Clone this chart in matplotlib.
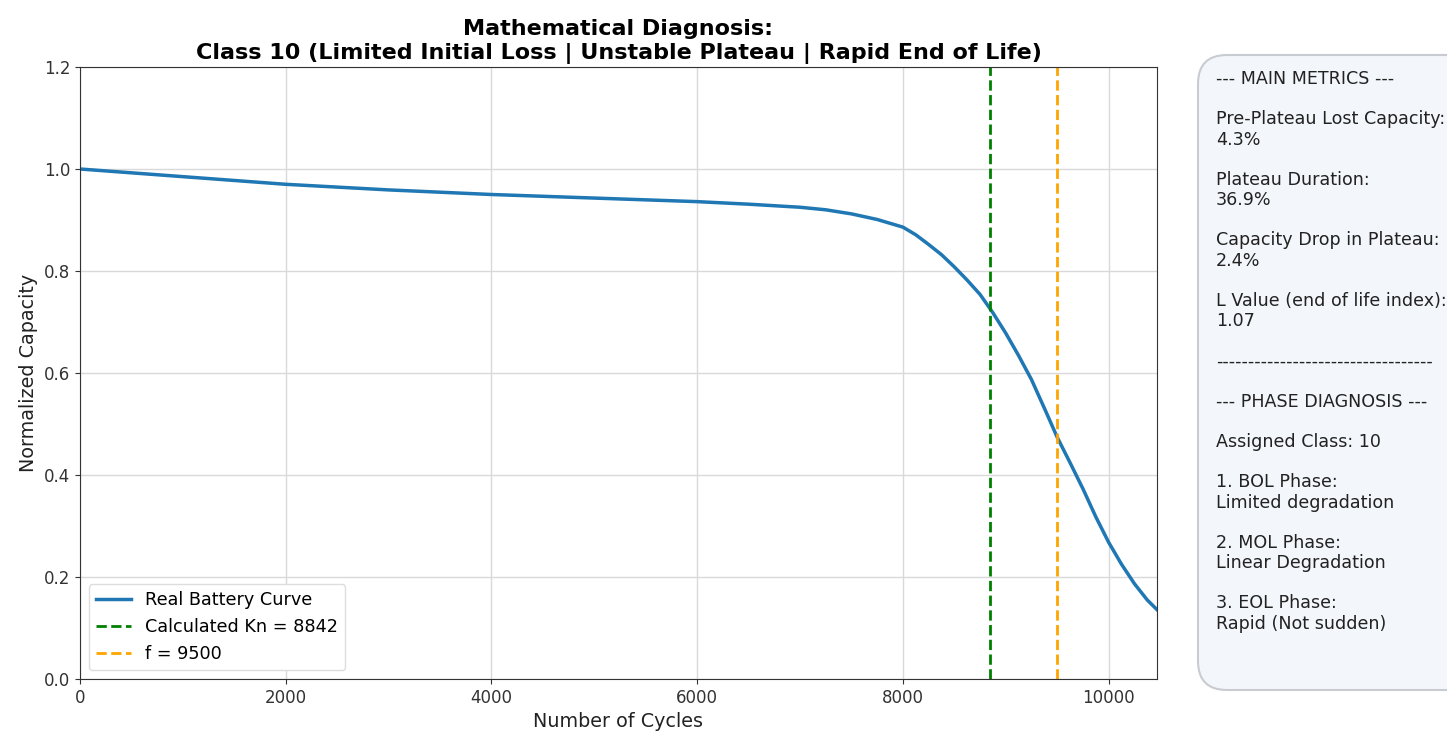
import matplotlib
matplotlib.use("Agg")
import matplotlib.pyplot as plt
from matplotlib.patches import FancyBboxPatch

# ---- data ----
cycles = [0, 1000, 2000, 3000, 4000, 5000, 6000, 6500, 7000, 7250, 7500, 7750,
          8000, 8125, 8250, 8375, 8500, 8625, 8750, 8875, 9000, 9125, 9250,
          9375, 9500, 9625, 9750, 9875, 10000, 10125, 10250, 10375, 10470]
capacity = [1.000, 0.985, 0.970, 0.959, 0.950, 0.943, 0.936, 0.931, 0.925, 0.920,
            0.912, 0.901, 0.886, 0.871, 0.852, 0.832, 0.808, 0.782, 0.754, 0.718,
            0.678, 0.634, 0.587, 0.531, 0.474, 0.424, 0.373, 0.318, 0.268, 0.225,
            0.187, 0.155, 0.136]
kn_value = 8842
f_value = 9500
x_max = 10470
y_ticks = [0.0, 0.2, 0.4, 0.6, 0.8, 1.0, 1.2]

title_text = ("Mathematical Diagnosis:\n"
              "Class 10 (Limited Initial Loss | Unstable Plateau | Rapid End of Life)")
info_lines = [
    "--- MAIN METRICS ---", "",
    "Pre-Plateau Lost Capacity:", "4.3%", "",
    "Plateau Duration:", "36.9%", "",
    "Capacity Drop in Plateau:", "2.4%", "",
    "L Value (end of life index):", "1.07", "",
    "-" * 34, "",
    "--- PHASE DIAGNOSIS ---", "",
    "Assigned Class: 10", "",
    "1. BOL Phase:", "Limited degradation", "",
    "2. MOL Phase:", "Linear Degradation", "",
    "3. EOL Phase:", "Rapid (Not sudden)",
]

W, H = 1447, 733
fig = plt.figure(figsize=(W / 100, H / 100), dpi=100)
ax = fig.add_axes([80 / W, 1 - 679 / H, (1157 - 80) / W, (679 - 67) / H])

ax.plot(cycles, capacity, color="#1f77b4", lw=2.5, label="Real Battery Curve")
ax.axvline(kn_value, color="green", ls="--", lw=2, label=f"Calculated Kn = {kn_value}")
ax.axvline(f_value, color="orange", ls="--", lw=2, label=f"f = {f_value}")

ax.set_xlim(0, x_max)
ax.set_ylim(0, 1.2)
ax.set_yticks(y_ticks)
ax.grid(True, color="#d9d9d9", lw=1)
ax.tick_params(labelsize=12, colors="#333333")
ax.set_xlabel("Number of Cycles", fontsize=13.8, color="#222222")
ax.set_ylabel("Normalized Capacity", fontsize=13.8, color="#222222")
ax.set_title(title_text, fontsize=16, fontweight="bold", pad=6)
for s in ax.spines.values():
    s.set_color("#333333")

ax.legend(loc="lower left", fontsize=12.7, framealpha=1, edgecolor="#dddddd")

# info box
box = FancyBboxPatch((1198 / W, 1 - 690 / H), 300 / W, (690 - 55) / H,
                     boxstyle="round,pad=0,rounding_size=0.02",
                     transform=fig.transFigure, facecolor="#f3f6fa",
                     edgecolor="#c8ccd1", lw=1.5, mutation_aspect=W / H)
fig.patches.append(box)
fig.text(1216 / W, 1 - 70 / H, "\n".join(info_lines), fontsize=12.6,
         va="top", ha="left", color="#222222", linespacing=1.155)

fig.savefig("out.png", dpi=100)
